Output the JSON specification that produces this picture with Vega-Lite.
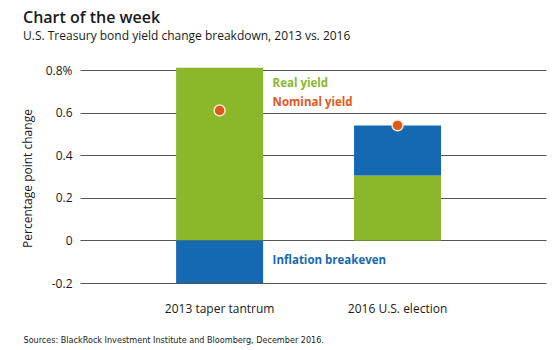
{
  "$schema": "https://vega.github.io/schema/vega-lite/v6.json",
  "width": 466,
  "height": 213,
  "autosize": {"type": "none"},
  "padding": {"left": 80, "top": 70, "right": 11, "bottom": 67},
  "background": "white",
  "title": {
    "text": "Chart of the week",
    "subtitle": "U.S. Treasury bond yield change breakdown, 2013 vs. 2016",
    "anchor": "start",
    "frame": "group",
    "dx": -57,
    "offset": 22,
    "font": "Open Sans",
    "fontSize": 16,
    "fontWeight": 600,
    "color": "#1a1a1a",
    "subtitleFont": "Open Sans",
    "subtitleFontSize": 12,
    "subtitleColor": "#1a1a1a",
    "subtitlePadding": 5
  },
  "datasets": {
    "bars": [
      {"event": "2013 taper tantrum", "component": "Real yield", "start": 0, "end": 0.81},
      {"event": "2013 taper tantrum", "component": "Inflation breakeven", "start": -0.2, "end": 0},
      {"event": "2016 U.S. election", "component": "Real yield", "start": 0, "end": 0.305},
      {"event": "2016 U.S. election", "component": "Inflation breakeven", "start": 0.305, "end": 0.54}
    ],
    "nominal": [
      {"event": "2013 taper tantrum", "component": "Nominal yield", "nominal": 0.61},
      {"event": "2016 U.S. election", "component": "Nominal yield", "nominal": 0.54}
    ],
    "labels": [
      {"event": "2013 taper tantrum", "component": "Real yield", "label": "Real yield", "pos": 0.735},
      {"event": "2013 taper tantrum", "component": "Nominal yield", "label": "Nominal yield", "pos": 0.645},
      {"event": "2013 taper tantrum", "component": "Inflation breakeven", "label": "Inflation breakeven", "pos": -0.095}
    ]
  },
  "encoding": {
    "x": {
      "field": "event",
      "type": "nominal",
      "sort": ["2013 taper tantrum", "2016 U.S. election"],
      "scale": {"paddingInner": 0.511, "paddingOuter": 0.565, "align": 0.478},
      "axis": {
        "labelAngle": 0,
        "labelPadding": 20,
        "labelFont": "Open Sans",
        "labelFontSize": 12,
        "labelColor": "#1a1a1a",
        "domain": false,
        "ticks": false,
        "title": "Sources: BlackRock Investment Institute and Bloomberg, December 2016.",
        "titleAnchor": "start",
        "titleAlign": "left",
        "titleX": -57,
        "titleY": 59,
        "titleBaseline": "alphabetic",
        "titleFont": "DejaVu Sans Condensed",
        "titleFontSize": 9,
        "titleFontWeight": "normal",
        "titleColor": "#1a1a1a"
      }
    }
  },
  "layer": [
    {
      "data": {"name": "bars"},
      "mark": {"type": "bar"},
      "encoding": {
        "y": {
          "field": "start",
          "type": "quantitative",
          "scale": {"domain": [-0.2, 0.8], "nice": false, "zero": false},
          "axis": {
            "values": [-0.2, 0, 0.2, 0.4, 0.6, 0.8],
            "labelExpr": "datum.value == 0.8 ? '0.8%' : datum.value == 0 ? '0' : replace(format(datum.value, '.1f'), '\u2212', '-')",
            "domain": false,
            "ticks": false,
            "grid": true,
            "gridColor": "#555555",
            "gridWidth": 1,
            "gridOpacity": 1,
            "labelPadding": 8,
            "labelFont": "Open Sans",
            "labelFontSize": 12,
            "labelColor": "#1a1a1a",
            "title": "Percentage point change",
            "titleFont": "Open Sans",
            "titleFontSize": 12,
            "titleFontWeight": "normal",
            "titleColor": "#1a1a1a",
            "titleX": -53,
            "titleY": 108,
            "titleBaseline": "middle",
            "titleAlign": "center",
            "titleAngle": -90
          }
        },
        "y2": {"field": "end"},
        "color": {
          "field": "component",
          "type": "nominal",
          "scale": {"domain": ["Real yield", "Inflation breakeven", "Nominal yield"], "range": ["#8AB82A", "#1568B2", "#E0581D"]},
          "legend": null
        }
      }
    },
    {
      "mark": {"type": "rule", "color": "#555555", "strokeWidth": 2},
      "encoding": {"x": null, "y": {"datum": 0, "type": "quantitative"}}
    },
    {
      "data": {"name": "nominal"},
      "mark": {"type": "point", "filled": true, "size": 120, "stroke": "#F6E9C8", "strokeWidth": 1.5, "opacity": 1},
      "encoding": {
        "y": {"field": "nominal", "type": "quantitative"},
        "fill": {"field": "component", "type": "nominal", "scale": {"domain": ["Real yield", "Inflation breakeven", "Nominal yield"], "range": ["#8AB82A", "#1568B2", "#E0581D"]}, "legend": null}
      }
    },
    {
      "data": {"name": "labels"},
      "mark": {"type": "text", "align": "left", "baseline": "middle", "dx": 53, "font": "Open Sans", "fontSize": 11.5, "fontWeight": "bold"},
      "encoding": {
        "y": {"field": "pos", "type": "quantitative"},
        "text": {"field": "label"},
        "color": {"field": "component", "type": "nominal", "legend": null}
      }
    }
  ],
  "config": {"view": {"stroke": null}}
}
